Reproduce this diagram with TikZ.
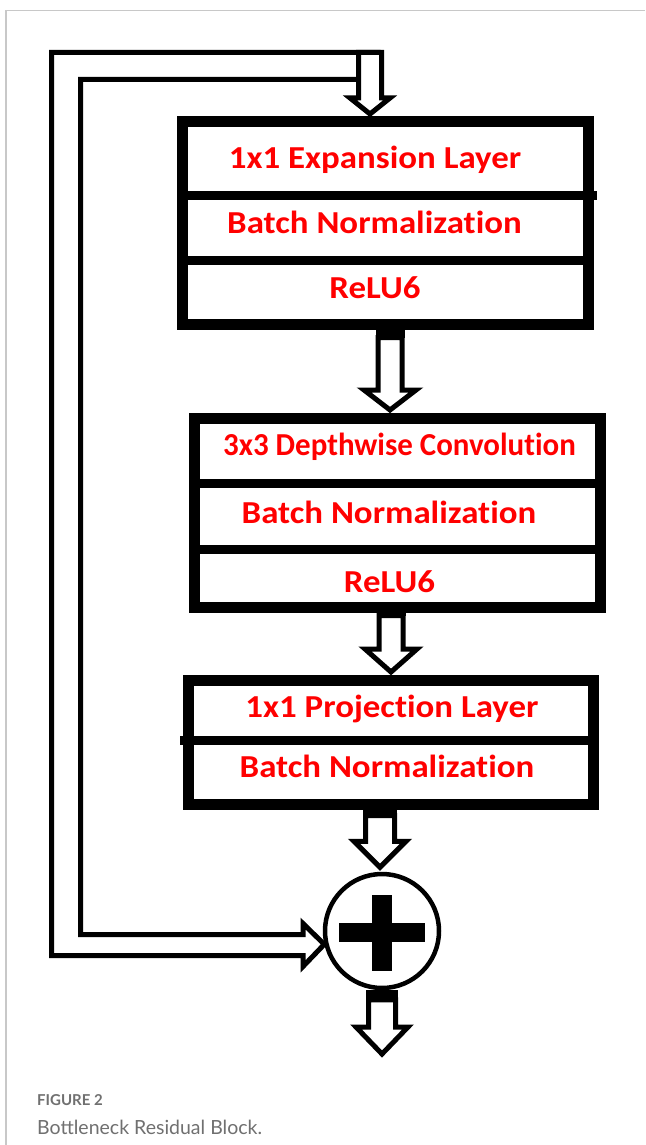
\documentclass[tikz,border=0pt]{standalone}
\usepackage{fontspec}
\usepackage{graphicx}
\newfontfamily\calib[Ligatures={NoCommon,NoContextual}]{Carlito}
\newfontfamily\capfont{Lato}
\usetikzlibrary{calc}
\definecolor{lbl}{HTML}{FF0000}
\definecolor{framegray}{HTML}{C8C8C8}
\definecolor{capgray}{HTML}{707070}
\newcommand\wide[2][1.09]{\scalebox{#1}[1]{#2}}
\tikzset{
  layerbox/.style={draw, line width=11pt, inner sep=0pt, fill=white},
  sepline/.style={line width=9pt},
  lbltext/.style={font=\calib\bfseries\fontsize{32}{32}\selectfont, text=lbl, inner sep=0pt, text height=20.5pt, text depth=0pt},
  barrowline/.style={draw, line width=5pt, fill=white, line join=miter},
  pipe/.style={line width=5pt, line join=miter},
  addnode/.style={draw, circle, line width=4.5pt, minimum size=114pt, inner sep=0pt, fill=white},
  captext/.style={anchor=base west, inner sep=0pt, text=capgray},
}
% #1 start, #2 tip, #3 shaft half width, #4 head half width, #5 head length, #6 stub
\newcommand\barrow[6]{%
  \draw[barrowline] let \p1=(#1), \p2=(#2) in
    (\x2-#3pt,\y1-#6pt) -- (\x2-#3pt,\y2+#5pt) -- (\x2-#4pt,\y2+#5pt) -- (\x2,\y2)
    -- (\x2+#4pt,\y2+#5pt) -- (\x2+#3pt,\y2+#5pt) -- (\x2+#3pt,\y1-#6pt) -- cycle;
  \fill let \p1=(#1), \p2=(#2) in
    (\x2-#3pt-2.5pt,\y1) rectangle (\x2+#3pt+2.5pt,\y1-#6pt);
}
\begin{document}
\begin{tikzpicture}[x=1pt,y=-1pt]
\useasboundingbox (0,0) rectangle (645,1145);
\fill[white] (0,0) rectangle (645,1145);
\draw[framegray, line width=1.5pt] (645,10.5) -- (6,10.5) -- (6,1145);

% boxes
\node[layerbox, minimum width=406pt, minimum height=203pt] (b1) at (385.5,223) {};
\node[layerbox, minimum width=406pt, minimum height=189pt] (b2) at (397.5,513) {};
\node[layerbox, minimum width=405pt, minimum height=124pt] (b3) at (391,742.5) {};

\draw[sepline] (b1.west |- 0,195.5) -- ([xshift=3pt]b1.east |- 0,195.5);
\draw[sepline] (b1.west |- 0,260.5) -- (b1.east |- 0,260.5);
\draw[sepline] (b2.west |- 0,483.5) -- (b2.east |- 0,483.5);
\draw[sepline] (b2.west |- 0,549.5) -- (b2.east |- 0,549.5);
\draw[sepline] ([xshift=-3pt]b3.west |- 0,740.5) -- (b3.east |- 0,740.5);

\node[lbltext] (t11) at (375,158) {\wide{1x1 Expansion Layer}};
\node[lbltext] (t12) at (374.5,223) {\wide{Batch Normalization}};
\node[lbltext] (t13) at (375,288) {\wide{ReLU6}};
\node[lbltext] (t21) at (399.5,445) {\wide[0.967]{3x3 Depthwise Convolution}};
\node[lbltext] (t22) at (389,513) {\wide{Batch Normalization}};
\node[lbltext] (t23) at (389.5,582) {\wide{ReLU6}};
\node[lbltext] (t31) at (392,707) {\wide{1x1 Projection Layer}};
\node[lbltext] (t32) at (387,767) {\wide{Batch Normalization}};

% adder
\node[addnode] (add) at (382,931) {};
\fill ($(add)+(-10,-36)$) rectangle ($(add)+(10,40)$);
\fill ($(add)+(-43,-8)$) rectangle ($(add)+(43,11)$);

% skip connection
\coordinate (in) at (369,52.5);
\coordinate (skiptip) at (add.193);
\coordinate (out) at (382,1054);
\barrow{in}{$(b1.north)+(-15.5,-2)$}{11.5}{20}{16}{0}
\draw[pipe] ($(in)+(11.5,0)$) -- (51.5,52.5) -- (51.5,955.5) -- (303,955.5) -- (303,966.5)
  -- (skiptip) -- (303,923.5) -- (303,934.5) -- (80.5,934.5) -- (80.5,79.5) -- (357.5,79.5);

% main arrows
\barrow{b1.south}{$(b2.north)+(-7.5,-3)$}{12}{26}{20}{7.5}
\barrow{b2.south}{$(b3.north)+(0,-3)$}{12}{26}{23}{2.5}
\barrow{b3.south}{$(add.north)+(-2,-4.5)$}{14.5}{26}{26}{5.5}
\barrow{add.south}{out}{13.5}{26}{27}{9.5}

% caption
\node[captext, font=\capfont\bfseries\fontsize{15}{15}\selectfont] (fig) at (37,1105) {FIGURE 2};
\node[captext, font=\capfont\fontsize{19.5}{19.5}\selectfont] (cap) at (37,1134.5) {Bottleneck Residual Block.};
\end{tikzpicture}
\end{document}
